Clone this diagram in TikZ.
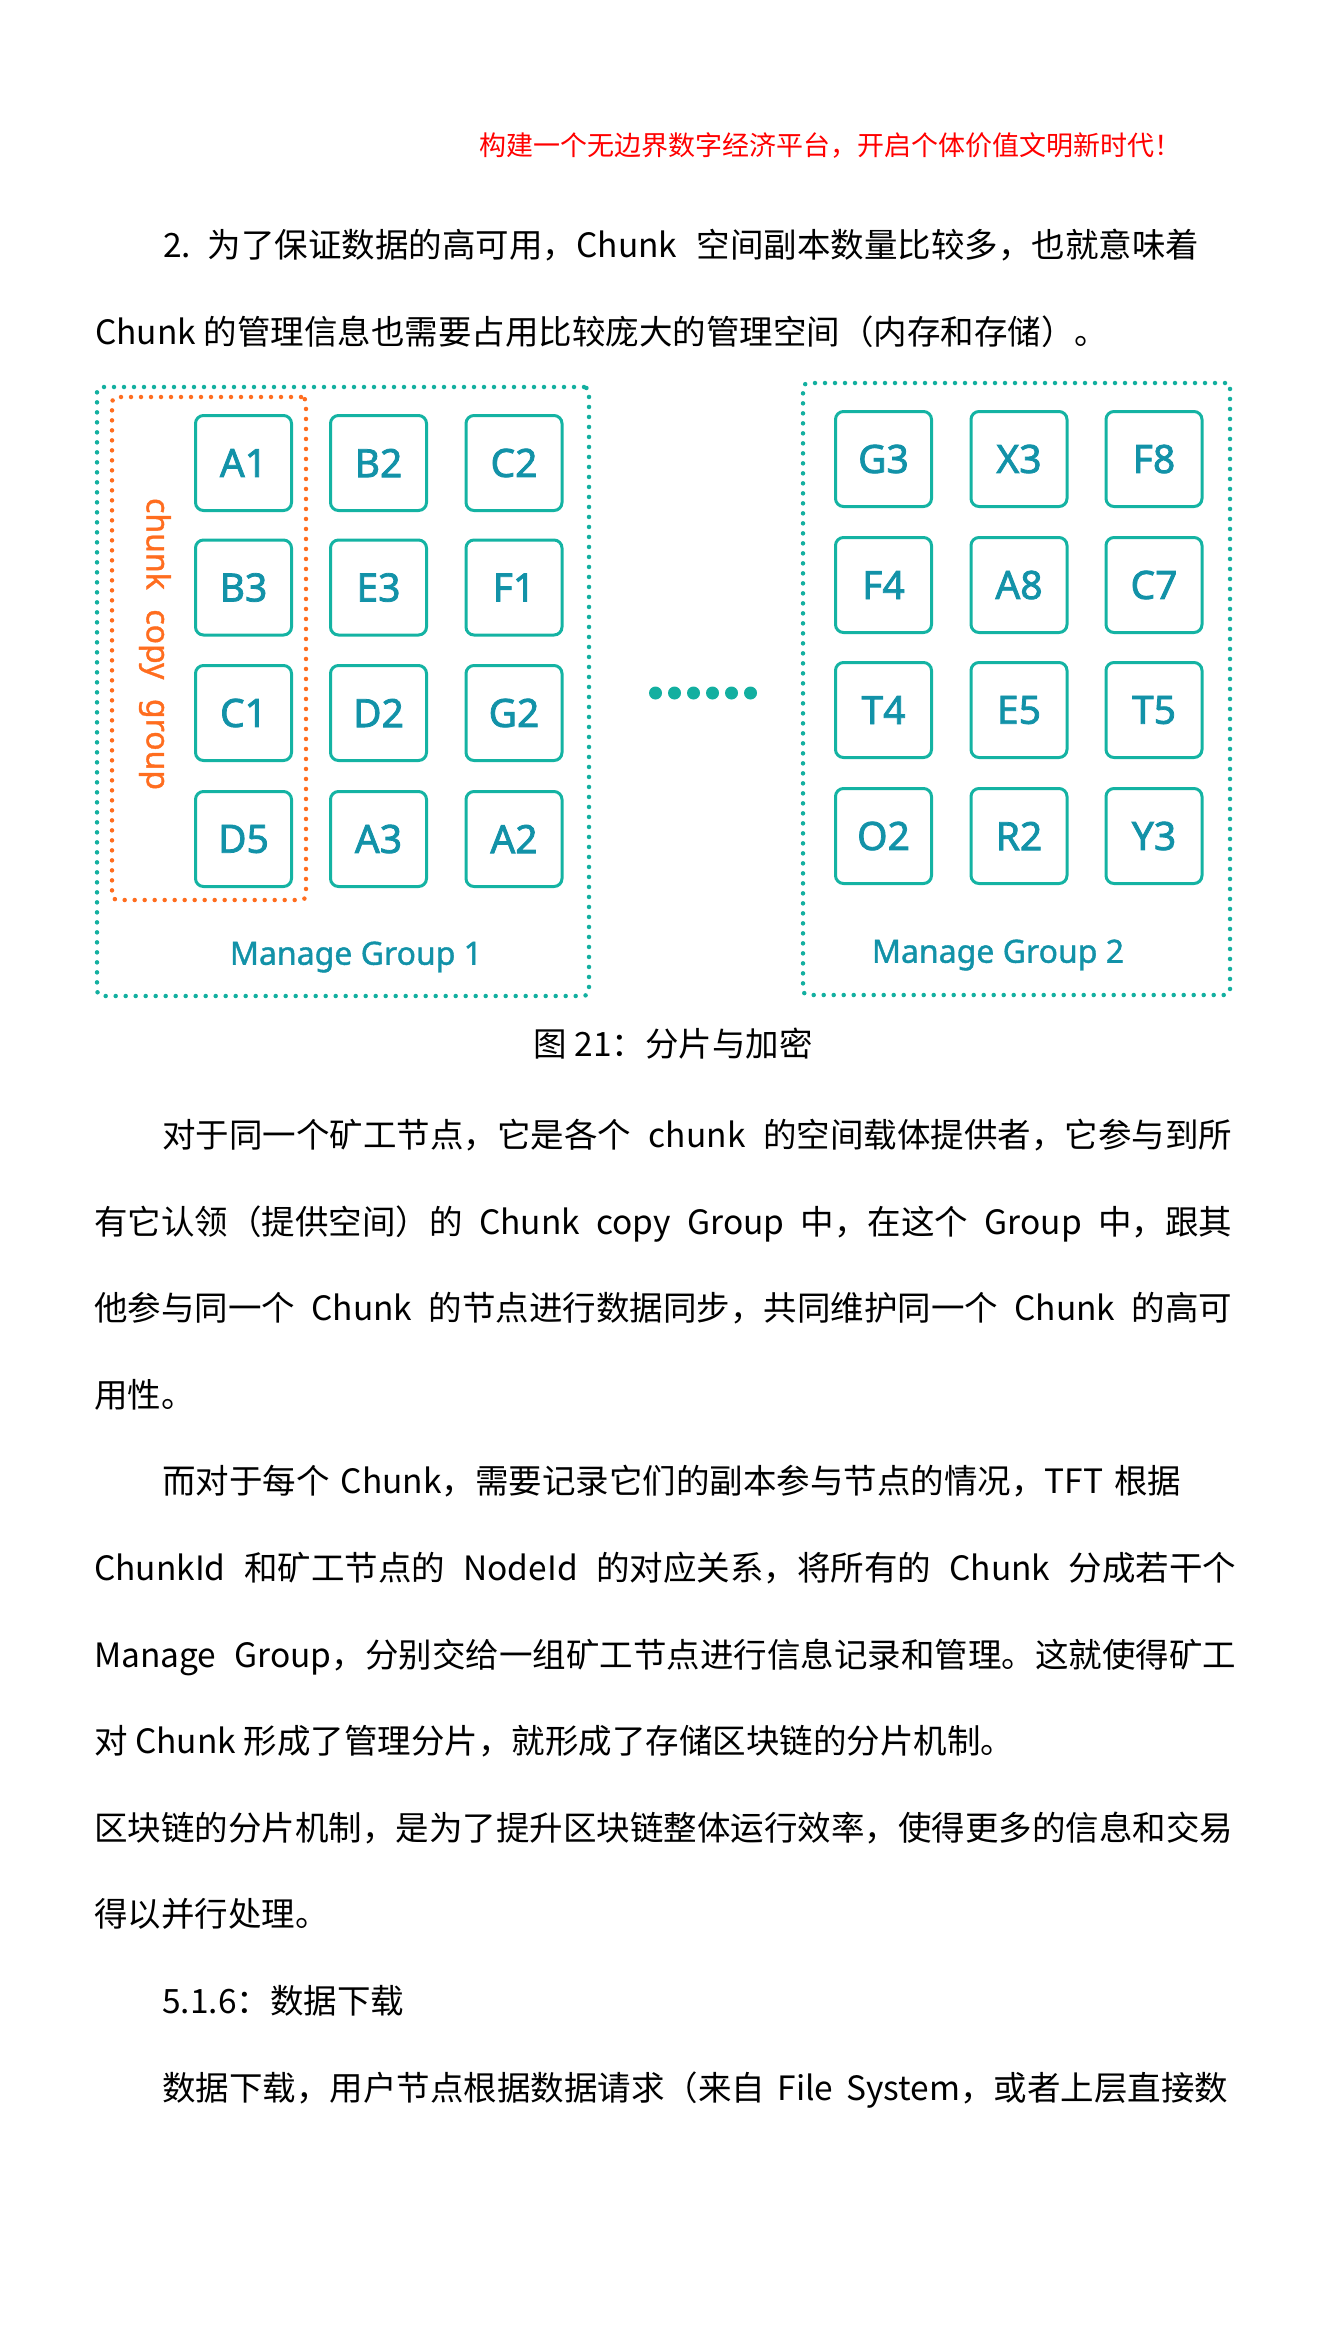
\documentclass[tikz,border=0pt]{standalone}
\usepackage{fontspec}
\setmainfont{Noto Sans CJK SC}
\newfontfamily\lblfont{Noto Sans}[FakeBold=2]
\newfontfamily\grpfont{Noto Sans}[FakeBold=1.2]
\XeTeXlinebreaklocale "zh"
\XeTeXlinebreakskip=0pt plus 3pt minus 0.5pt
\definecolor{boxc}{HTML}{14B3A3}
\definecolor{lblc}{HTML}{1292A8}
\definecolor{grpc}{HTML}{13AFA0}
\definecolor{orgc}{HTML}{FF6D1F}
\definecolor{headc}{HTML}{FF0000}

\begin{document}
\begin{tikzpicture}[x=1pt,y=-1pt]

\tikzset{body/.style = {anchor=west, inner sep=0pt, font=\fontsize{33.5}{40}\selectfont, text height=29pt, text depth=4pt}}
\tikzset{chunk/.style = {draw=boxc, line width=3pt, rounded corners=8pt, minimum width=96pt, minimum height=95pt, inner sep=0pt, text=lblc, font=\lblfont\fontsize{39}{39}\selectfont}}
\tikzset{grp/.style = {draw=grpc, line width=4.5pt, line cap=round, dash pattern=on 0pt off 10pt, rounded corners=5pt, inner sep=0pt}}
\tikzset{grplabel/.style = {text=lblc, font=\grpfont\fontsize{32}{32}\selectfont}}
\useasboundingbox (0,0) rectangle (1342,2338);
%header and text above
\node[body, text=headc, font=\fontsize{27}{30}\selectfont] (head) at (479,143) {构建一个无边界数字经济平台，开启个体价值文明新时代！};
\node[body] (l1) at (163,245) {\makebox[1036pt][s]{2.\enspace 为了保证数据的高可用，Chunk 空间副本数量比较多，也就意味着}};
\node[body] (l2) at (95,332) {Chunk 的管理信息也需要占用比较庞大的管理空间（内存和存储）。};
%groups
\node[grp, minimum width=492pt, minimum height=609pt] (mg1) at (343,691.5) {};
\node[grp, draw=orgc, minimum width=194pt, minimum height=503pt] (ccg) at (209,648.5) {};
\node[grp, minimum width=427pt, minimum height=612pt] (mg2) at (1016.5,689) {};
%chunks of group 1
\node[chunk] (a1) at (243.5,463) {A1};
\node[chunk] (b2) at (378.5,463) {B2};
\node[chunk] (c2) at (514,463) {C2};
\node[chunk] (b3) at (243.5,587.5) {B3};
\node[chunk] (e3) at (378.5,587.5) {E3};
\node[chunk] (f1) at (514,587.5) {F1};
\node[chunk] (c1) at (243.5,713) {C1};
\node[chunk] (d2) at (378.5,713) {D2};
\node[chunk] (g2) at (514,713) {G2};
\node[chunk] (d5) at (243.5,839) {D5};
\node[chunk] (a3) at (378.5,839) {A3};
\node[chunk] (a2) at (514,839) {A2};
%chunks of group 2
\node[chunk] (g3) at (883.5,459) {G3};
\node[chunk] (x3) at (1019,459) {X3};
\node[chunk] (f8) at (1154,459) {F8};
\node[chunk] (f4) at (883.5,585) {F4};
\node[chunk] (a8) at (1019,585) {A8};
\node[chunk] (c7) at (1154,585) {C7};
\node[chunk] (t4) at (883.5,710) {T4};
\node[chunk] (e5) at (1019,710) {E5};
\node[chunk] (t5) at (1154,710) {T5};
\node[chunk] (o2) at (883.5,836) {O2};
\node[chunk] (r2) at (1019,836) {R2};
\node[chunk] (y3) at (1154,836) {Y3};
%labels
\node[grplabel, text=orgc, rotate=-90] (ccglabel) at (155,644) {chunk\hspace{0.35em} copy\hspace{0.35em} group};
\node[grplabel] (mg1label) at (356,957) {Manage Group 1};
\node[grplabel] (mg2label) at (998,955) {Manage Group 2};
\fill[grpc] (655.5,693) circle (6.5pt) (674.5,693) circle (6.5pt) (693.5,693) circle (6.5pt)
  (712.5,693) circle (6.5pt) (731.5,693) circle (6.5pt) (750.5,693) circle (6.5pt);
%caption and text below
\node[body, anchor=center] (cap) at (673,1044) {图 21：分片与加密};
\node[body] (p1) at (162,1135) {\makebox[1070pt][s]{对于同一个矿工节点，它是各个 chunk 的空间载体提供者，它参与到所}};
\node[body] (p2) at (94,1222) {\makebox[1138pt][s]{有它认领（提供空间）的 Chunk copy Group 中，在这个 Group 中，跟其}};
\node[body] (p3) at (94,1308) {\makebox[1138pt][s]{他参与同一个 Chunk 的节点进行数据同步，共同维护同一个 Chunk 的高可}};
\node[body] (p4) at (94,1395) {用性。};
\node[body] (p5) at (162,1481) {\makebox[1019pt][s]{而对于每个 Chunk，需要记录它们的副本参与节点的情况，TFT 根据}};
\node[body] (p6) at (94,1568) {\makebox[1142pt][s]{ChunkId 和矿工节点的 NodeId 的对应关系，将所有的 Chunk 分成若干个}};
\node[body] (p7) at (94,1655) {\makebox[1142pt][s]{Manage Group，分别交给一组矿工节点进行信息记录和管理。这就使得矿工}};
\node[body] (p8) at (94,1741) {对 Chunk 形成了管理分片，就形成了存储区块链的分片机制。};
\node[body] (p9) at (94,1828) {\makebox[1138pt][s]{区块链的分片机制，是为了提升区块链整体运行效率，使得更多的信息和交易}};
\node[body] (p10) at (94,1914) {得以并行处理。};
\node[body] (p11) at (162,2001) {5.1.6：数据下载};
\node[body] (p12) at (162,2088) {\makebox[1066pt][s]{数据下载，用户节点根据数据请求（来自 File System，或者上层直接数}};

\end{tikzpicture}
\end{document}
